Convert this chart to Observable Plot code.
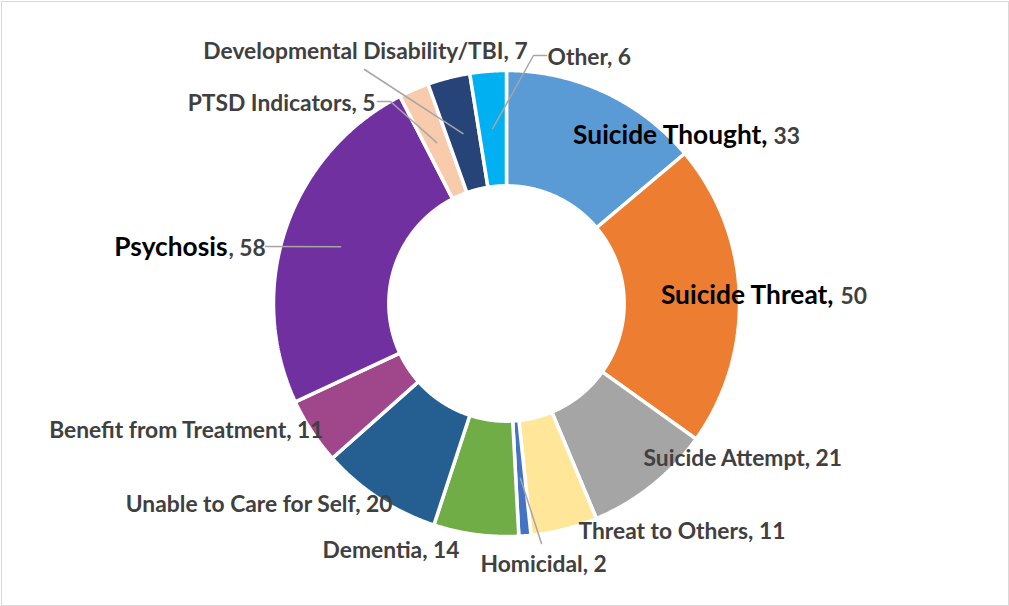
<!DOCTYPE html>
<html><head><meta charset="utf-8">
<script src="https://cdn.jsdelivr.net/npm/d3@7"></script>
<script src="https://cdn.jsdelivr.net/npm/@observablehq/plot@0.6"></script>
<style>
body{margin:0;background:#fff;}
#chart{width:1009px;height:606px;}
#chart svg text{font-family:Lato,"Open Sans",sans-serif;font-weight:700;}
</style></head><body><div id="chart"></div>
<script>
// ---- data ----
const categories = ["Suicide Thought","Suicide Threat","Suicide Attempt","Threat to Others","Homicidal","Dementia","Unable to Care for Self","Benefit from Treatment","Psychosis","PTSD Indicators","Developmental Disability/TBI","Other"];
const values = [33,50,21,11,2,14,20,11,58,5,7,6];
const colors = ["#5B9BD5","#ED7D31","#A5A5A5","#FFE699","#4472C4","#70AD47","#255E91","#A0468A","#7030A0","#F8CBAD","#264478","#00B0F0"];
const highlighted = ["Suicide Thought","Suicide Threat","Psychosis"];

// ---- layout (pixel offsets from donut centre, converted to radius units) ----
const W = 1009, H = 606, CX = 506, CY = 303, RPX = 233, INNER = 0.505;
const u = (dx, dy) => [dx / RPX, -dy / RPX];
const labelLayout = {
  "Suicide Thought": {at: u(767 - CX, 143 - CY), gap: 6},
  "Suicide Threat": {at: u(833 - CX, 303 - CY), gap: 7},
  "Psychosis": {at: u(227 - CX, 255 - CY), gap: 1, sep: true},
  "Suicide Attempt": {at: u(643 - CX, 465 - CY), anchor: "start"},
  "Threat to Others": {at: u(578 - CX, 538 - CY), anchor: "start"},
  "Homicidal": {at: u(480 - CX, 571 - CY), anchor: "start", leader: [u(541 - CX, 543 - CY)]},
  "Dementia": {at: u(459 - CX, 557 - CY), anchor: "end"},
  "Unable to Care for Self": {at: u(392 - CX, 511 - CY), anchor: "end"},
  "Benefit from Treatment": {at: u(323 - CX, 437 - CY), anchor: "end"},
  "PTSD Indicators": {at: u(375 - CX, 110 - CY), anchor: "end", leader: [u(390 - CX, 101 - CY), u(377 - CX, 101 - CY)]},
  "Developmental Disability/TBI": {at: u(365 - CX, 58 - CY), anchor: "middle", leader: [u(364 - CX, 69 - CY)]},
  "Other": {at: u(547 - CX, 64 - CY), anchor: "start", leader: [u(533 - CX, 55 - CY), u(546 - CX, 55 - CY)]}
};
labelLayout["Psychosis"].leader = [u(265 - CX, 246 - CY)];

// ---- build slice polygons via d3.pie ----
const table = categories.map((c, i) => ({category: c, value: values[i], color: colors[i]}));
const arcs = d3.pie().sort(null).value(d => d.value).startAngle(0).endAngle(2 * Math.PI)(table);
const pt = (r, a) => ({x: r * Math.sin(a), y: r * Math.cos(a)});
const slicePts = [];
for (const a of arcs) {
  const n = Math.max(2, Math.ceil((a.endAngle - a.startAngle) / 0.005));
  const ring = [];
  for (let k = 0; k <= n; k++) ring.push(pt(1, a.startAngle + (a.endAngle - a.startAngle) * k / n));
  for (let k = n; k >= 0; k--) ring.push(pt(INNER, a.startAngle + (a.endAngle - a.startAngle) * k / n));
  for (const p of ring) slicePts.push({...p, category: a.data.category, color: a.data.color});
}

// leaders: from ring middle at slice mid-angle to label
const leaderPts = [];
for (const a of arcs) {
  const L = labelLayout[a.data.category];
  if (!L || !L.leader) continue;
  const mid = (a.startAngle + a.endAngle) / 2;
  leaderPts.push({...pt((1 + INNER) / 2, mid), category: a.data.category});
  for (const q of L.leader) leaderPts.push({x: q[0], y: q[1], category: a.data.category});
}

// labels
const plainLabels = [], nameLabels = [], valueLabels = [];
for (const a of arcs) {
  const c = a.data.category, L = labelLayout[c];
  if (highlighted.includes(c)) {
    nameLabels.push({x: L.at[0], y: L.at[1], text: L.sep ? c : c + ","});
    valueLabels.push({x: L.at[0] + L.gap / RPX, y: L.at[1], text: (L.sep ? ", " : "") + a.data.value});
  } else {
    plainLabels.push({x: L.at[0], y: L.at[1], text: `${c}, ${a.data.value}`, anchor: L.anchor});
  }
}

const chart = Plot.plot({
  width: W, height: H,
  marginTop: 0, marginRight: 0, marginBottom: 0, marginLeft: 0,
  x: {domain: [-CX / RPX, (W - CX) / RPX], range: [0, W], axis: null},
  y: {domain: [-(H - CY) / RPX, CY / RPX], range: [H, 0], axis: null},
  color: {type: "identity"},
  style: {background: "#fff"},
  marks: [
    Plot.frame({stroke: "#D9D9D9", inset: 1}),
    Plot.line(slicePts, {x: "x", y: "y", z: "category", fill: "color", stroke: "#fff", strokeWidth: 3.5, curve: "linear-closed", strokeLinejoin: "miter"}),
    Plot.line(leaderPts, {x: "x", y: "y", z: "category", stroke: "#A6A6A6", strokeWidth: 1.5}),
    ...["start", "middle", "end"].map(anc =>
      Plot.text(plainLabels.filter(d => d.anchor === anc), {x: "x", y: "y", text: "text", textAnchor: anc, lineAnchor: "bottom", fill: "#404040", fontSize: 22.8, fontWeight: 700})
    ),
    Plot.text(nameLabels, {x: "x", y: "y", text: "text", textAnchor: "end", lineAnchor: "bottom", fill: "#000", fontSize: 26.3, fontWeight: 700}),
    Plot.text(valueLabels, {x: "x", y: "y", text: "text", textAnchor: "start", lineAnchor: "bottom", fill: "#404040", fontSize: 22.8, fontWeight: 700})
  ]
});
document.getElementById("chart").appendChild(chart);
</script>
</body></html>
